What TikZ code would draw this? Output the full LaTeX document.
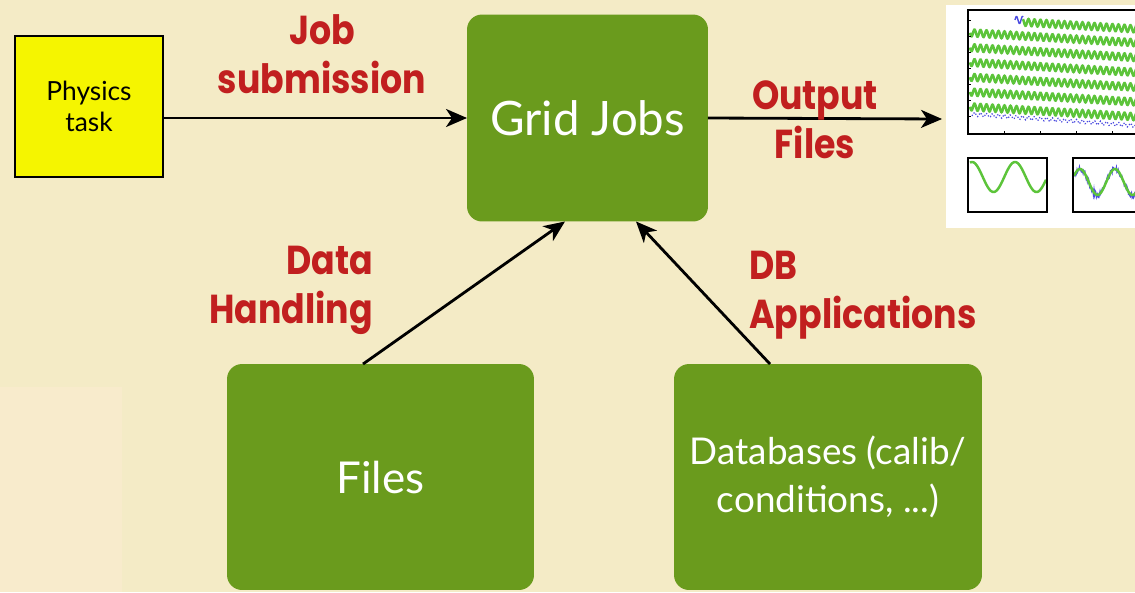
\documentclass[tikz,border=0pt]{standalone}
\usepackage{fontspec}
\setmainfont{Lato}
\newfontfamily\labelfont{Poppins}[FakeStretch=0.86]
\usetikzlibrary{arrows.meta,calc}
\definecolor{paper}{HTML}{F4EBC6}
\definecolor{paperlight}{HTML}{F8EBCC}
\definecolor{boxgreen}{HTML}{6A9B1D}
\definecolor{labelred}{HTML}{C11F1F}
\definecolor{taskyellow}{HTML}{F5F500}
\definecolor{wavegreen}{HTML}{5CC43A}
\definecolor{waveblue}{HTML}{4B4BE0}
\tikzset{
  greenbox/.style={fill=boxgreen, rounded corners=0.3cm, inner sep=0, outer sep=0,
    text=white, align=center},
  lbl/.style={text=labelred, font=\labelfont\bfseries\fontsize{23}{28}\selectfont},
  conn/.style={line width=1.6pt, -{Stealth[length=0.42cm, width=0.36cm, inset=0.12cm]}},
  wave/.style={wavegreen, line width=1.4pt},
  frame/.style={line width=1.1pt}
}
\begin{document}
\begin{tikzpicture}[x=0.02cm, y=-0.02cm]
    \fill[paper] (0,0) rectangle (1135,592);
    \fill[paperlight] (0,387) rectangle (122,592);
    \useasboundingbox (0,0) rectangle (1135,592);

    % boxes
    \node[draw, line width=1.1pt, fill=taskyellow, minimum width=2.96cm, minimum height=2.82cm,
      align=center, font=\fontsize{15}{18}\selectfont, inner sep=0, outer sep=0] (task) at (89,106.5) {Physics\\task};
    \node[greenbox, minimum width=4.82cm, minimum height=4.14cm,
      font=\fontsize{27}{32}\selectfont] (grid) at (587.5,118) {Grid Jobs};
    \node[greenbox, minimum width=6.14cm, minimum height=4.52cm,
      font=\fontsize{25}{30}\selectfont] (files) at (380.5,477) {Files};
    \node[greenbox, minimum width=6.16cm, minimum height=4.52cm,
      font=\fontsize{21}{27}\selectfont] (dbs) at (828,477) {Databases (calib/\\conditions, ...)};
    \node[fill=white, minimum width=3.78cm, minimum height=4.46cm, inner sep=0, outer sep=0] (plot) at (1040.5,116.5) {};

    % the plot picture
    \begin{scope}
        \clip (plot.north west) rectangle (plot.south east);
        \pgfmathsetseed{7}
        \draw[waveblue, line width=0.8pt] plot[domain=1015:1023, samples=30] (\x, {20+3.5*sin(60*(\x-970))});
        \draw[wave] plot[domain=1023:1140, samples=300] (\x, {19+0.06*(\x-970)+3.5*sin(60*(\x-970))});
        \foreach \r in {1,...,6}{
            % row \r of the decay curves
            \draw[wave] plot[domain=970:1140, samples=400] (\x, {18+14.8*\r+0.06*(\x-970)+3.5*sin(60*(\x-970))});
        }
        \draw[waveblue, line width=0.7pt, densely dotted] plot[domain=972:1140, samples=120] (\x, {114+0.07*(\x-970)+2*sin(60*(\x-970))});
        \draw[frame] (968,10) rectangle (1145,134);
        \foreach \t in {0,...,4}
            \draw (968+36*\t,134) -- ++(0,-3);
        \foreach \t in {0,...,6}
            \draw (968,20+16*\t) -- ++(3,0);
        % small plots
        \draw[wave] plot[domain=970:1046, samples=120] (\x, {177-15*cos(8.372*(\x-972))});
        \draw[frame] (968,158) rectangle (1047,212);
        \draw[waveblue, line width=0.7pt] plot[domain=1074:1140, samples=110] (\x, {182-13*cos(10.286*(\x-1080))+3*rand});
        \draw[wave] plot[domain=1074:1140, samples=120] (\x, {182-13*cos(10.286*(\x-1080))});
        \draw[frame] (1073,158) rectangle (1145,212);
    \end{scope}

    % connectors
    \draw[conn] (task.east |- grid.west) -- (grid.west);
    \draw[conn] (grid.east) -- ($(plot.west)+(-4,2.5)$);
    \draw[conn] ($(files.north)+(-17.5,0)$) -- ($(grid.south)+(-22.5,0)$);
    \draw[conn] ($(dbs.north)+(-58,0)$) -- ($(grid.south)+(48.5,0)$);

    % labels
    \node[lbl, align=center] (jobl) at (322,54) {Job\\submission};
    \node[lbl, align=center] (outl) at (815,120) {Output\\Files};
    \node[lbl, align=right, anchor=east] (datal) at (379,290) {Data\\Handling};
    \node[lbl, align=left, anchor=west] (dbl) at (743,295) {DB\\Applications};
\end{tikzpicture}
\end{document}
